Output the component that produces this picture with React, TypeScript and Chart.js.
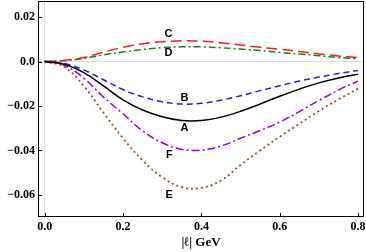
import React, { useEffect, useRef } from "react";
import { Chart, registerables } from "chart.js";

Chart.register(...registerables);

const xs = [0, 0.05, 0.1, 0.15, 0.2, 0.25, 0.3, 0.35, 0.4, 0.45, 0.5, 0.55, 0.6, 0.65, 0.7, 0.75, 0.8];
const seriesA = [0, -0.0012, -0.005, -0.011, -0.0172, -0.0218, -0.0248, -0.0265, -0.0265, -0.025, -0.0224, -0.0191, -0.0156, -0.0124, -0.0096, -0.0074, -0.0057];
const seriesB = [0, -0.0009, -0.0038, -0.0082, -0.0126, -0.0159, -0.0181, -0.0191, -0.0188, -0.0174, -0.0154, -0.0131, -0.0109, -0.0088, -0.007, -0.0054, -0.0041];
const seriesC = [0, 0.0005, 0.0018, 0.0042, 0.0064, 0.008, 0.0089, 0.0093, 0.0091, 0.0084, 0.0074, 0.0064, 0.0055, 0.0045, 0.0034, 0.0025, 0.0017];
const seriesD = [0, 0.0004, 0.0014, 0.003, 0.0043, 0.0054, 0.0062, 0.0066, 0.0066, 0.0062, 0.0056, 0.0049, 0.0041, 0.0034, 0.0026, 0.0018, 0.0012];
const seriesE = [0, -0.0025, -0.011, -0.023, -0.0345, -0.0445, -0.052, -0.0565, -0.0568, -0.0535, -0.0465, -0.04, -0.0338, -0.028, -0.0222, -0.017, -0.0122];
const seriesF = [0, -0.0018, -0.0075, -0.016, -0.0235, -0.0312, -0.0365, -0.0395, -0.0398, -0.038, -0.0345, -0.031, -0.0272, -0.0225, -0.0175, -0.0128, -0.0088];

const xTicks = [0, 0.2, 0.4, 0.6, 0.8];
const yTicks = [-0.06, -0.04, -0.02, 0, 0.02];

const curveLabels = ["A", "B", "C", "D", "E", "F"];
const labelX = [0.357, 0.357, 0.316, 0.316, 0.318, 0.318];
const labelY = [-0.0298, -0.0163, 0.0124, 0.0039, -0.0599, -0.0419];

const xTitle = "|ℓ| GeV";

const fmtY = (v: number) => (Math.abs(v) < 1e-9 ? "0.0" : v.toFixed(2).replace("-", "\u2212"));
const fmtX = (v: number) => v.toFixed(1);

const pts = (ys: number[]) => xs.map((x, i) => ({ x, y: ys[i] }));

const framePlugin = {
  id: "frame",
  afterDraw(chart: any) {
    const { ctx, chartArea, scales } = chart;
    const { left, top, right, bottom } = chartArea;
    const x = scales.x;
    const y = scales.y;
    ctx.save();
    ctx.strokeStyle = "#000";
    ctx.lineWidth = 1;
    ctx.strokeRect(left + 0.5, top + 0.5, right - left - 1, bottom - top - 1);
    xTicks.forEach((v) => {
      const px = Math.round(x.getPixelForValue(v)) + 0.5;
      ctx.beginPath();
      ctx.moveTo(px, bottom);
      ctx.lineTo(px, bottom - 4);
      ctx.stroke();
    });
    yTicks.forEach((v) => {
      const py = Math.round(y.getPixelForValue(v)) + 0.5;
      ctx.beginPath();
      ctx.moveTo(left, py);
      ctx.lineTo(left + 4, py);
      ctx.stroke();
    });
    ctx.fillStyle = "#000";
    ctx.font = 'bold 11px "Liberation Sans", Arial, sans-serif';
    ctx.textAlign = "center";
    ctx.textBaseline = "middle";
    curveLabels.forEach((t, i) => {
      ctx.fillText(t, x.getPixelForValue(labelX[i]), y.getPixelForValue(labelY[i]));
    });
    ctx.restore();
  },
};

export default function App() {
  const ref = useRef<HTMLCanvasElement | null>(null);
  useEffect(() => {
    if (!ref.current) return;
    const common = { pointRadius: 0, fill: false, tension: 0.4 };
    const chart = new Chart(ref.current, {
      type: "line",
      data: {
        datasets: [
          { ...common, label: "A", data: pts(seriesA), borderColor: "#000000", borderWidth: 1.5 },
          { ...common, label: "B", data: pts(seriesB), borderColor: "#1a1aff", borderWidth: 1.5, borderDash: [6, 4] },
          { ...common, label: "C", data: pts(seriesC), borderColor: "#ff1a1a", borderWidth: 1.5, borderDash: [11, 5] },
          { ...common, label: "D", data: pts(seriesD), borderColor: "#2a7a10", borderWidth: 1.5, borderDash: [7, 3, 2, 3] },
          { ...common, label: "E", data: pts(seriesE), borderColor: "#a0521e", borderWidth: 1.8, borderDash: [2, 3] },
          { ...common, label: "F", data: pts(seriesF), borderColor: "#9400c8", borderWidth: 1.5, borderDash: [8, 3, 2, 3] },
        ],
      },
      options: {
        animation: false,
        responsive: false,
        maintainAspectRatio: false,
        layout: { padding: { top: 1, right: 2, left: 0, bottom: 0 } },
        plugins: { legend: { display: false }, tooltip: { enabled: false } },
        scales: {
          x: {
            type: "linear",
            min: -0.017,
            max: 0.815,
            afterBuildTicks: (s: any) => {
              s.ticks = xTicks.map((v) => ({ value: v }));
            },
            afterFit: (s: any) => {
              s.height = 35;
              s.paddingLeft = 0;
              s.paddingRight = 0;
            },
            border: { display: false },
            grid: {
              drawTicks: false,
              color: (c: any) => (c.tick && Math.abs(c.tick.value) < 1e-9 ? "#dcdcdc" : "rgba(0,0,0,0)"),
              lineWidth: 1,
            },
            ticks: {
              padding: 3,
              maxRotation: 0,
              autoSkip: false,
              color: "#000",
              font: { family: '"Liberation Serif", "Times New Roman", serif', size: 12, weight: "bold" },
              callback: (v: any) => fmtX(Number(v)),
            },
            title: {
              display: true,
              text: xTitle,
              color: "#000",
              padding: { top: 0, bottom: 2 },
              font: { family: '"Liberation Serif", "Times New Roman", serif', size: 13, weight: "bold" },
            },
          },
          y: {
            type: "linear",
            min: -0.0699,
            max: 0.0272,
            afterBuildTicks: (s: any) => {
              s.ticks = yTicks.map((v) => ({ value: v }));
            },
            afterFit: (s: any) => {
              s.width = 38;
              s.paddingTop = 0;
              s.paddingBottom = 0;
            },
            border: { display: false },
            grid: {
              drawTicks: false,
              color: (c: any) => (c.tick && Math.abs(c.tick.value) < 1e-9 ? "#dcdcdc" : "rgba(0,0,0,0)"),
              lineWidth: 1,
            },
            ticks: {
              padding: 3,
              autoSkip: false,
              color: "#000",
              font: { family: '"Liberation Serif", "Times New Roman", serif', size: 12, weight: "bold" },
              callback: (v: any) => fmtY(Number(v)),
            },
          },
        },
      },
      plugins: [framePlugin],
    });
    return () => chart.destroy();
  }, []);
  return (
    <div style={{ position: "fixed", left: 0, top: 0, width: 366, height: 252, background: "#fff" }}>
      <canvas ref={ref} width={366} height={252} style={{ width: 366, height: 252, display: "block" }} />
    </div>
  );
}
